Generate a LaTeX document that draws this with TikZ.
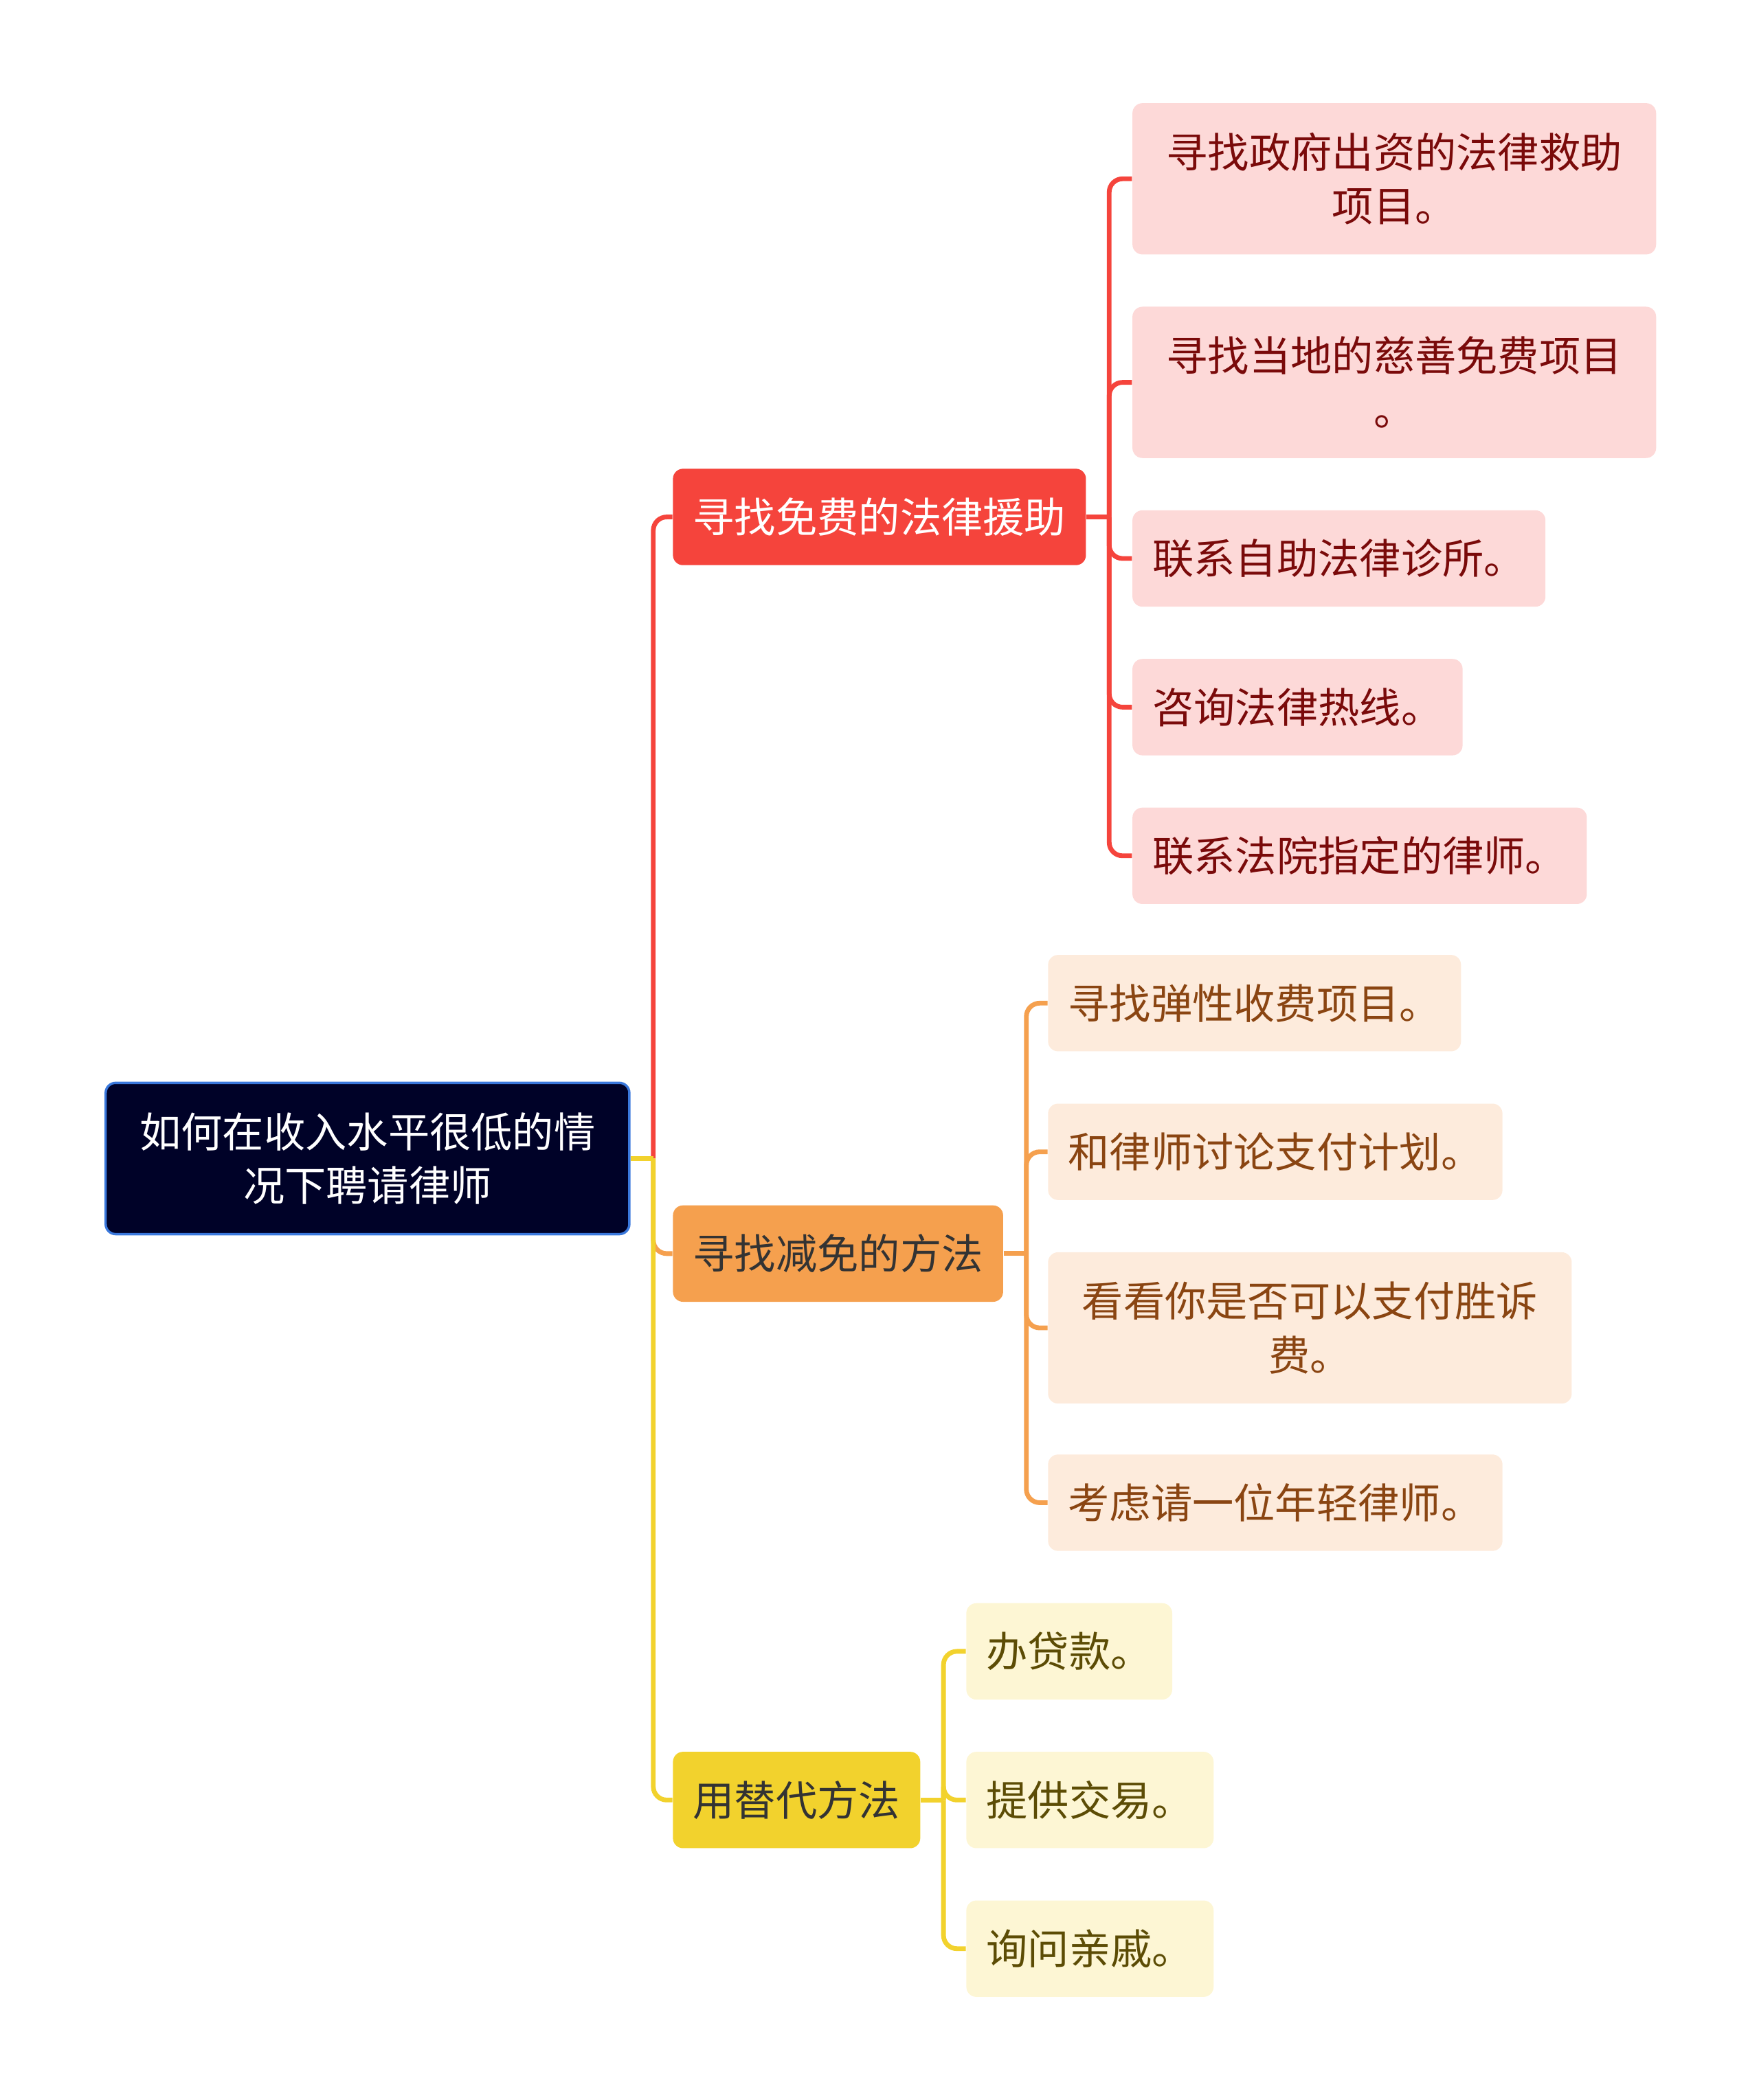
\documentclass[tikz,border=0pt]{standalone}
\usepackage{fontspec}
\setmainfont{Noto Sans CJK SC}
\usepackage{xcolor}
\usetikzlibrary{calc, positioning}

\definecolor{rootfill}{HTML}{000228}
\definecolor{rootline}{HTML}{3A78DC}
\definecolor{redmain}{HTML}{F5443C}
\definecolor{redsoft}{HTML}{FDD9D8}
\definecolor{redtext}{HTML}{7A0A0A}
\definecolor{orgmain}{HTML}{F5A04E}
\definecolor{orgsoft}{HTML}{FDEBDC}
\definecolor{orgtext}{HTML}{8A4512}
\definecolor{ylwmain}{HTML}{F2D22D}
\definecolor{ylwsoft}{HTML}{FDF6D4}
\definecolor{ylwtext}{HTML}{5C4C05}
\definecolor{darktext}{HTML}{333333}

\begin{document}
\begin{tikzpicture}[x=0.02cm, y=-0.02cm,
  box/.style={rounded corners=0.15cm, inner xsep=0.3cm, inner ysep=0pt,
    minimum height=1.44cm, anchor=west,
    font=\fontsize{17.6pt}{23pt}\selectfont},
  wide/.style={text width=7.22cm, align=center, minimum height=2.26cm},
  rootbox/.style={box, wide, fill=rootfill, draw=rootline, line width=1pt, text=white},
  redtop/.style={box, fill=redmain, text=white},
  orgtop/.style={box, fill=orgmain, text=darktext},
  ylwtop/.style={box, fill=ylwmain, text=darktext},
  redleaf/.style={box, fill=redsoft, text=redtext},
  orgleaf/.style={box, fill=orgsoft, text=orgtext},
  ylwleaf/.style={box, fill=ylwsoft, text=ylwtext},
  link/.style={line width=2pt, rounded corners=0.2cm}]
\useasboundingbox (0,0) rectangle (1313,1568);
\def\stub{17}
% root and main branches
\node[rootbox] (root) at (78,865) {如何在收入水平很低的情\\况下聘请律师};
\node[redtop] (b1) at (502,386) {寻找免费的法律援助};
\node[orgtop] (b2) at (502,936) {寻找减免的方法};
\node[ylwtop] (b3) at (502,1344) {用替代方法};
% leaves of the first branch
\node[redleaf, wide] (c11) at (845,133.5) {寻找政府出资的法律救助\\项目。};
\node[redleaf, wide] (c12) at (845,285.5) {寻找当地的慈善免费项目\\。};
\node[redleaf] (c13) at (845,417) {联系自助法律诊所。};
\node[redleaf] (c14) at (845,528) {咨询法律热线。};
\node[redleaf] (c15) at (845,639) {联系法院指定的律师。};
% leaves of the second branch
\node[orgleaf] (c21) at (782,749) {寻找弹性收费项目。};
\node[orgleaf] (c22) at (782,860) {和律师讨论支付计划。};
\node[orgleaf, wide] (c23) at (782,991.5) {看看你是否可以支付胜诉\\费。};
\node[orgleaf] (c24) at (782,1122) {考虑请一位年轻律师。};
% leaves of the third branch
\node[ylwleaf] (c31) at (721,1233) {办贷款。};
\node[ylwleaf] (c32) at (721,1344) {提供交易。};
\node[ylwleaf] (c33) at (721,1455) {询问亲戚。};
% joints
\coordinate (j0) at ($(root.east)+(\stub,0)$);
\coordinate (j1) at ($(b1.east)+(\stub,0)$);
\coordinate (j2) at ($(b2.east)+(\stub,0)$);
\coordinate (j3) at ($(b3.east)+(\stub,0)$);
% connectors
\draw[link, redmain] (j0) |- (b1.west);
\draw[link, orgmain] (j0) |- (b2.west);
\draw[link, ylwmain] (j0) |- (b3.west);
\draw[link, ylwmain] (root.east) -- (j0);
\draw[link, redmain] (b1.east) -- (j1);
\foreach \c in {c11,c12,c13,c14,c15}
  \draw[link, redmain] (j1) |- (\c.west);
\draw[link, orgmain] (b2.east) -- (j2);
\foreach \c in {c21,c22,c23,c24}
  \draw[link, orgmain] (j2) |- (\c.west);
\draw[link, ylwmain] (b3.east) -- (j3);
\foreach \c in {c31,c32,c33}
  \draw[link, ylwmain] (j3) |- (\c.west);
\end{tikzpicture}
\end{document}
